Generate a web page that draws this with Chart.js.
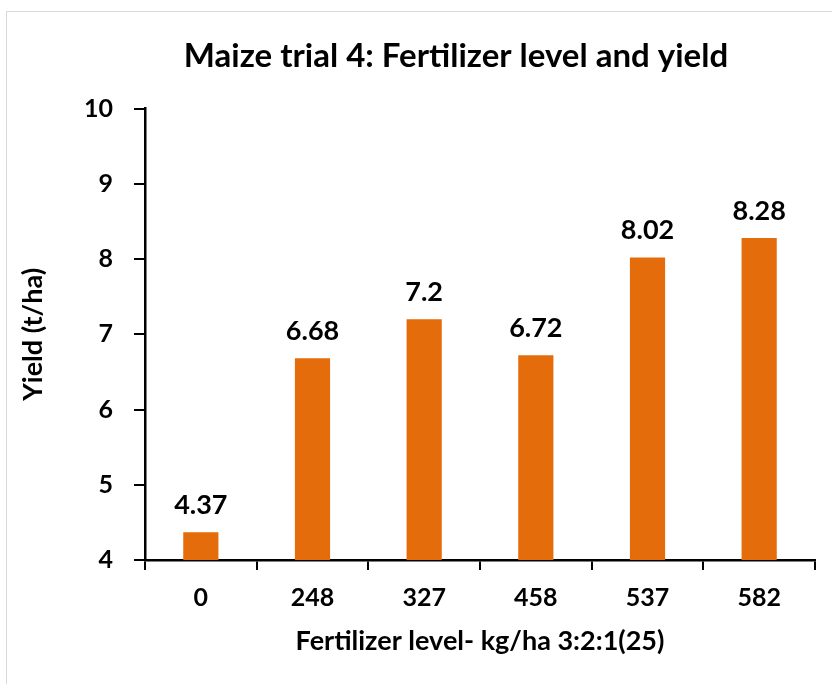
<!DOCTYPE html>
<html>
<head>
<meta charset="utf-8">
<script src="https://cdn.jsdelivr.net/npm/chart.js@4.4.1/dist/chart.umd.min.js"></script>
<style>
  body { margin: 0; background: #fff; }
  #frame {
    position: absolute; left: 6px; top: 11px;
    width: 900px; height: 700px;
    border: 1px solid #d9d9d9;
  }
  #wrap { position: absolute; left: 0; top: 0; width: 832px; height: 684px; }
</style>
</head>
<body>
<div id="frame"></div>
<div id="wrap"><canvas id="chart" width="832" height="684"></canvas></div>
<script>
const levels = ["0", "248", "327", "458", "537", "582"];
const yields = [4.37, 6.68, 7.2, 6.72, 8.02, 8.28];
const yTicks = [4, 5, 6, 7, 8, 9, 10];

const FONT = "Lato";
const WEIGHT = "bold";

// draws the value above each bar
const valueLabels = {
  id: "valueLabels",
  afterDatasetsDraw(chart) {
    const ctx = chart.ctx;
    const meta = chart.getDatasetMeta(0);
    ctx.save();
    ctx.font = WEIGHT + " 27px " + FONT;
    ctx.fillStyle = "#000";
    ctx.textAlign = "center";
    ctx.textBaseline = "middle";
    meta.data.forEach((bar, i) => {
      ctx.fillText(String(yields[i]), bar.x, bar.y - 27);
    });
    ctx.restore();
  },
};

// the original title is centred on a wider frame than what is visible
const shiftTitle = {
  id: "shiftTitle",
  afterLayout(chart) {
    chart.titleBlock.left = 80;
    chart.titleBlock.right = 832;
  },
};

new Chart(document.getElementById("chart"), {
  type: "bar",
  data: {
    labels: levels,
    datasets: [
      {
        data: yields,
        backgroundColor: "#E46C0A",
        categoryPercentage: 1,
        barPercentage: 0.315,
      },
    ],
  },
  options: {
    responsive: false,
    animation: false,
    layout: { padding: { left: 0, right: 17, top: 0, bottom: 0 } },
    plugins: {
      legend: { display: false },
      tooltip: { enabled: false },
      title: {
        display: true,
        text: "Maize trial 4: Fertilizer level and yield",
        color: "#000",
        font: { family: FONT, size: 33, weight: WEIGHT },
        padding: { top: 37, bottom: 32 },
      },
    },
    scales: {
      x: {
        grid: {
          drawOnChartArea: false,
          color: "#000",
          lineWidth: 2,
          tickLength: 10,
        },
        border: { color: "#000", width: 2.5 },
        ticks: {
          color: "#000",
          padding: 13,
          font: { family: FONT, size: 25, weight: WEIGHT },
        },
        title: {
          display: true,
          text: "Fertilizer level- kg/ha 3:2:1(25)",
          color: "#000",
          font: { family: FONT, size: 27, weight: WEIGHT },
          padding: { top: 0, bottom: 27 },
        },
        afterFit(scale) {
          scale.height = 124;
        },
      },
      y: {
        min: 4,
        max: 10,
        afterBuildTicks(scale) {
          scale.ticks = yTicks.map((v) => ({ value: v }));
        },
        grid: {
          drawOnChartArea: false,
          color: "#000",
          lineWidth: 2,
          tickLength: 11,
        },
        border: { color: "#000", width: 2.5 },
        ticks: {
          color: "#000",
          padding: 21,
          font: { family: FONT, size: 25, weight: WEIGHT },
        },
        title: {
          display: true,
          text: "Yield (t/ha)",
          color: "#000",
          font: { family: FONT, size: 27, weight: WEIGHT },
          padding: { top: 17, bottom: 0 },
        },
        afterFit(scale) {
          scale.width = 145;
        },
      },
    },
  },
  plugins: [valueLabels, shiftTitle],
});
</script>
</body>
</html>
